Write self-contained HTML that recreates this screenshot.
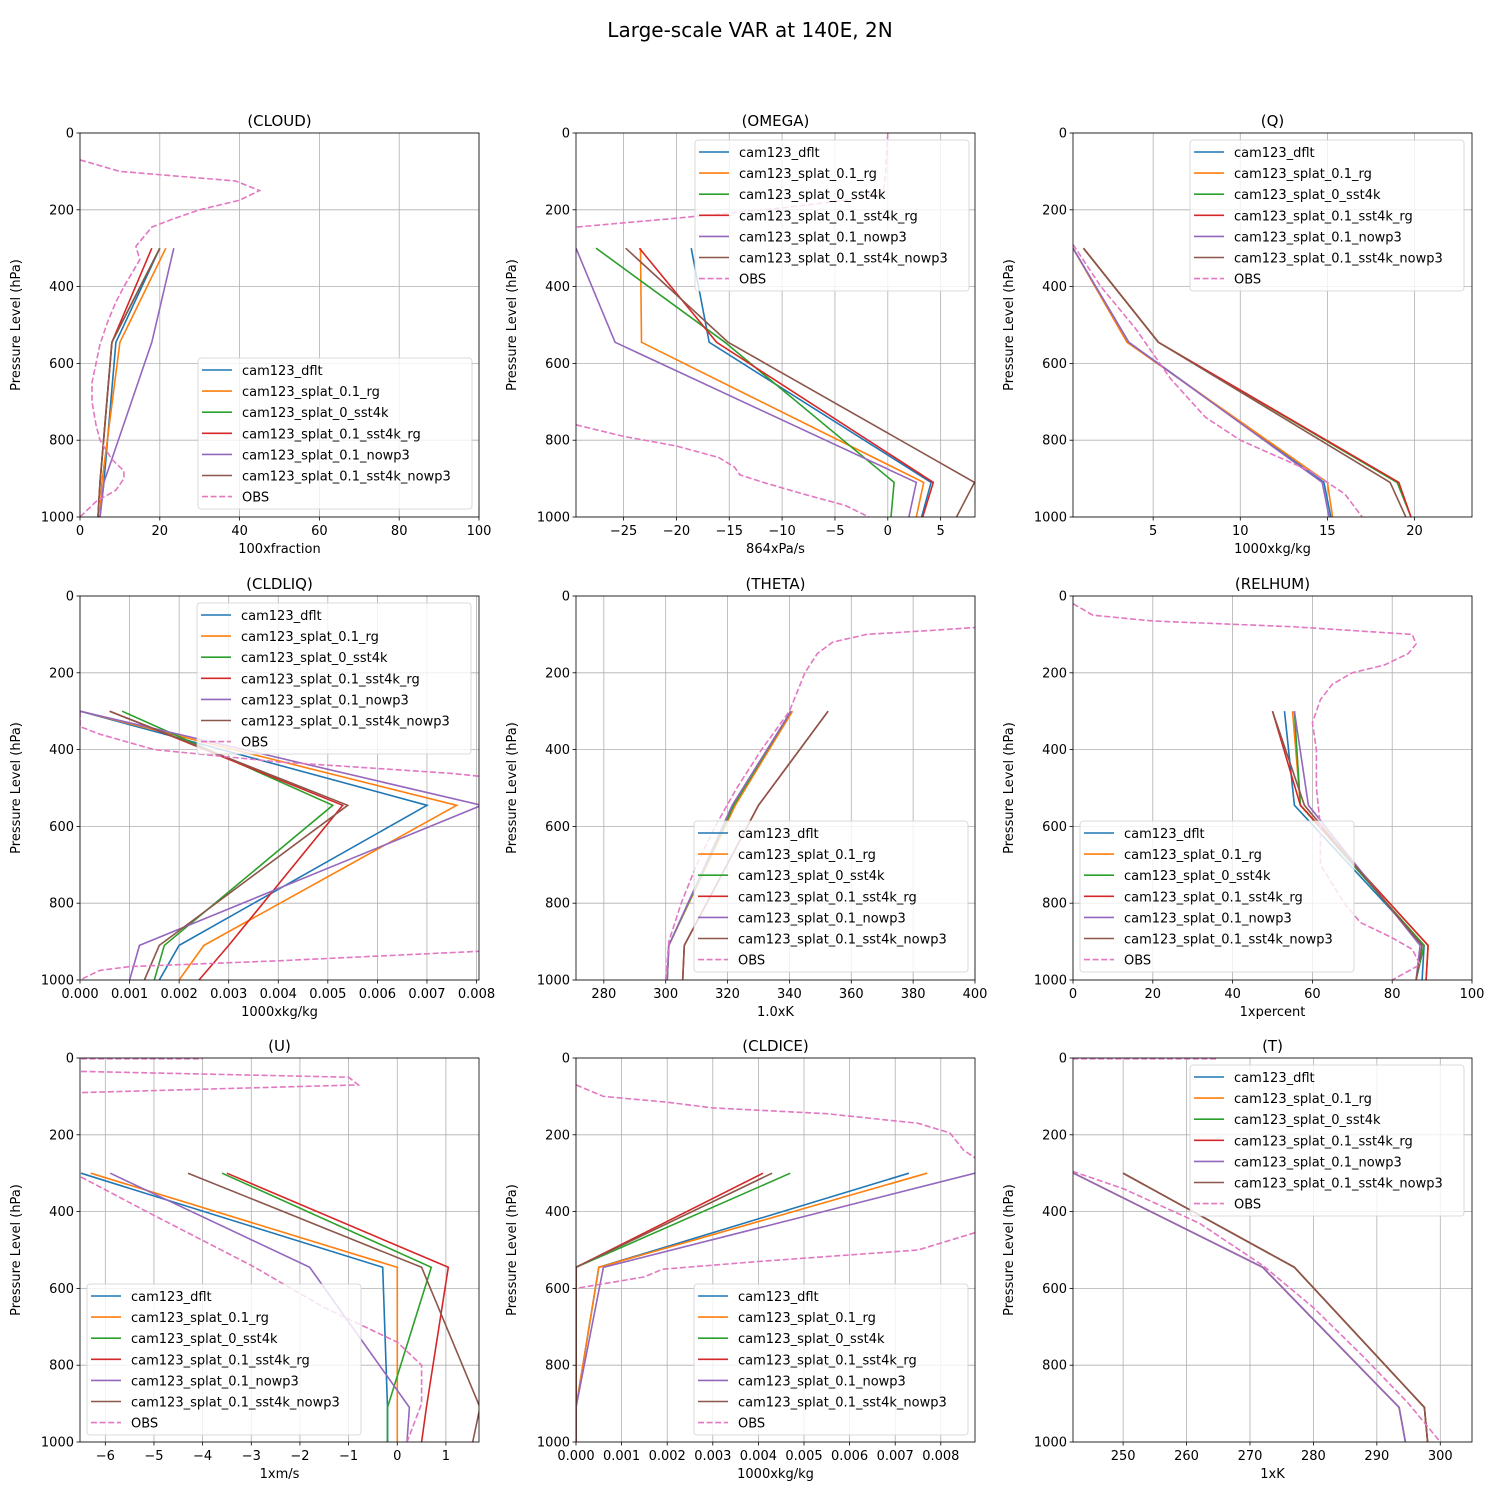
<!DOCTYPE html>
<html><head><meta charset="utf-8"><style>
body{margin:0;background:#fff;}
svg text{font-family:"DejaVu Sans","Liberation Sans",sans-serif;}
</style></head><body>
<svg id="fig" width="1500" height="1500" xmlns="http://www.w3.org/2000/svg">
<rect width="1500" height="1500" fill="#fff"/>
<text x="750" y="37" font-size="20" text-anchor="middle">Large-scale VAR at 140E, 2N</text>
</svg>
<script>
const levels = [300, 545, 910, 1000];
const seriesNames = ["cam123_dflt","cam123_splat_0.1_rg","cam123_splat_0_sst4k","cam123_splat_0.1_sst4k_rg","cam123_splat_0.1_nowp3","cam123_splat_0.1_sst4k_nowp3"];
const colors = ["#1f77b4","#ff7f0e","#2ca02c","#d62728","#9467bd","#8c564b"];
const obsColor = "#e377c2";

const cloudVals = [[20,9,6,5],[21.5,10,5.5,5],[20,8,5,4.5],[18,8,5,4.5],[23.5,18,6,5],[20,8,5,4.5]];
const cloudObs = [[0,70],[10,100],[39,125],[45,150],[40,175],[30,200],[23,225],[18,245],[14,295],[15,330],[13,365],[11,400],[9,440],[7,490],[5,550],[4,600],[3,650],[3,700],[4,760],[5,800],[8,850],[11,880],[11,900],[9,930],[4,960],[0,1000]];
const omegaVals = [[-18.6,-16.9,4.1,3.2],[-23.4,-23.3,3.4,2.7],[-27.6,-15.4,0.6,0.3],[-23.5,-16.2,4.3,3.3],[-29.5,-25.8,2.7,2.0],[-24.8,-15.1,8.2,6.5]];
const omegaObs = [[0,0],[-0.2,100],[-0.4,150],[-3,172],[-10,195],[-20,222],[-29.5,245],[null,null],[-29.5,760],[-25,790],[-20,815],[-16,845],[-14.5,870],[-14,890],[-12,908],[-8,940],[-4,970],[-1.8,1000]];
const qVals = [[0.4,3.6,14.8,15.2],[0.4,3.5,15.0,15.3],[1.0,5.3,19.0,19.8],[1.0,5.3,19.1,19.8],[0.4,3.6,14.7,15.1],[1.0,5.3,18.6,19.5]];
const qObs = [[0.4,290],[2,400],[4,510],[6,640],[8,740],[10,800],[12,840],[14,880],[16,940],[17,1000]];
const cldliqVals = [[0,0.0070,0.0020,0.0016],[0,0.0076,0.0025,0.0020],[0.00085,0.0051,0.0017,0.0015],[0.0006,0.0053,0.0030,0.0024],[0,0.0081,0.0012,0.0010],[0.0006,0.0054,0.0016,0.0013]];
const cldliqObs = [[0,300],[0,340],[0.0004,360],[0.0015,400],[0.004,432],[0.0075,462],[0.0081,470],[null,null],[0.0081,925],[0.004,950],[0.001,965],[0.0004,975],[0,1000]];
const thetaVals = [[340.5,322,301,300.5],[341,322.5,301,300.5],[340.5,322,301,300.5],[352.5,330,306,305.5],[340.5,321.5,301,300.5],[352.5,330,306,305.5]];
const thetaObs = [[300,1000],[301,900],[305,800],[310,700],[316,600],[323,500],[331,400],[340,300],[345,200],[349,150],[354,120],[365,100],[385,90],[400,82]];
const relhumVals = [[53,55.5,88,87.5],[55,57,89,88.5],[55.5,57,88,86],[50,57,89,88.5],[55.5,59,87,86],[50,58,87.5,86]];
const relhumObs = [[0,20],[5,50],[20,65],[55,80],[85,100],[86,125],[84,150],[78,180],[70,200],[65,230],[62,270],[60,330],[61,400],[61,500],[62,600],[62,700],[68,800],[72,850],[80,890],[85,920],[87,960],[80,1000]];
const uVals = [[-6.5,-0.3,-0.2,-0.2],[-6.3,0,0,0],[-3.6,0.7,-0.2,-0.2],[-3.5,1.05,0.6,0.5],[-5.9,-1.8,0.25,0.2],[-4.3,0.5,1.7,1.55]];
const uObs = [[-6.5,2],[-4,2],[null,null],[-6.5,35],[-1,50],[-0.8,70],[-6.5,90],[null,null],[-6.5,310],[-5,410],[-3,540],[-1.5,650],[0,740],[0.5,800],[0.5,900],[0.2,1000]];
const cldiceVals = [[0.0073,0.0005,0,0],[0.0077,0.0005,0,0],[0.0047,0,0,0],[0.0041,0,0,0],[0.00875,0.0006,0,0],[0.0043,0,0,0]];
const cldiceObs = [[0,70],[0.0006,100],[0.002,115],[0.003,130],[0.0055,145],[0.0075,170],[0.0082,195],[0.0085,240],[0.00875,260],[null,null],[0.00875,455],[0.0075,500],[0.004,530],[0.0019,550],[0.0015,570],[0,600]];
const tVals = [[242.2,272,293.5,294.5],[242.2,272,293.5,294.5],[250,277,297.5,298],[250,277,297.5,298],[242.2,272,293.5,294.5],[250,277,297.5,298]];
const tObs = [[242,2],[265,2],[null,null],[242,295],[250,340],[262,430],[272,540],[280,650],[288,780],[295,900],[298,960],[300,1000]];

const yTicks = [0,200,400,600,800,1000];
const cloudTicks=[0,20,40,60,80,100];
const omegaTicks=[-25,-20,-15,-10,-5,0,5];
const qTicks=[5,10,15,20];
const liqTicks=[0,0.001,0.002,0.003,0.004,0.005,0.006,0.007,0.008];
const thetaTicks=[280,300,320,340,360,380,400];
const rhTicks=[0,20,40,60,80,100];
const uTicks=[-6,-5,-4,-3,-2,-1,0,1];
const iceTicks=[0,0.001,0.002,0.003,0.004,0.005,0.006,0.007,0.008];
const tTicks=[250,260,270,280,290,300];

const cols=[80,576,1073], rows=[133,596,1058], W=399, H=384;
const panels=[
 {t:"(CLOUD)",xl:"100xfraction",lim:[0,100],ticks:cloudTicks,v:cloudVals,o:cloudObs,c:0,r:0,leg:[198,358],fmt:v=>v},
 {t:"(OMEGA)",xl:"864xPa/s",lim:[-29.5,8.25],ticks:omegaTicks,v:omegaVals,o:omegaObs,c:1,r:0,leg:[695,140],fmt:v=>v<0?"\u2212"+(-v):v},
 {t:"(Q)",xl:"1000xkg/kg",lim:[0.4,23.3],ticks:qTicks,v:qVals,o:qObs,c:2,r:0,leg:[1190,140],fmt:v=>v},
 {t:"(CLDLIQ)",xl:"1000xkg/kg",lim:[0,0.00805],ticks:liqTicks,v:cldliqVals,o:cldliqObs,c:0,r:1,leg:[197,603],fmt:v=>v.toFixed(3)},
 {t:"(THETA)",xl:"1.0xK",lim:[271,400],ticks:thetaTicks,v:thetaVals,o:thetaObs,c:1,r:1,leg:[694,821],fmt:v=>v},
 {t:"(RELHUM)",xl:"1xpercent",lim:[0,100],ticks:rhTicks,v:relhumVals,o:relhumObs,c:2,r:1,leg:[1080,821],fmt:v=>v},
 {t:"(U)",xl:"1xm/s",lim:[-6.52,1.68],ticks:uTicks,v:uVals,o:uObs,c:0,r:2,leg:[87,1284],fmt:v=>v<0?"\u2212"+(-v):v},
 {t:"(CLDICE)",xl:"1000xkg/kg",lim:[0,0.00875],ticks:iceTicks,v:cldiceVals,o:cldiceObs,c:1,r:2,leg:[694,1284],fmt:v=>v.toFixed(3)},
 {t:"(T)",xl:"1xK",lim:[242.1,305],ticks:tTicks,v:tVals,o:tObs,c:2,r:2,leg:[1190,1065],fmt:v=>v}
];
const NS="http://www.w3.org/2000/svg", fig=document.getElementById('fig');
function mk(tag,attrs,parent){const e=document.createElementNS(NS,tag);for(const k in attrs)e.setAttribute(k,attrs[k]);(parent||fig).appendChild(e);return e;}
panels.forEach((p,pi)=>{
 const x0=cols[p.c], y0=rows[p.r];
 const g=mk('g',{});
 
 
 const xs=v=>x0+(v-p.lim[0])/(p.lim[1]-p.lim[0])*W;
 const ys=v=>y0+v/1000*H;
 const cid='clip'+pi;
 const cp=mk('clipPath',{id:cid},g); mk('rect',{x:x0,y:y0,width:W,height:H},cp);
 // grid + ticks
 p.ticks.forEach(t=>{const X=xs(t);
  mk('line',{x1:X,x2:X,y1:y0,y2:y0+H,stroke:'#b0b0b0','stroke-width':0.8},g);
  mk('line',{x1:X,x2:X,y1:y0+H,y2:y0+H+3.5,stroke:'#000','stroke-width':0.8},g);
  const tx=mk('text',{x:X,y:y0+H+18,'font-size':13,'text-anchor':'middle'},g);tx.textContent=p.fmt(t);
  
  
 });
 yTicks.forEach(t=>{const Y=ys(t);
  mk('line',{x1:x0,x2:x0+W,y1:Y,y2:Y,stroke:'#b0b0b0','stroke-width':0.8},g);
  mk('line',{x1:x0-3.5,x2:x0,y1:Y,y2:Y,stroke:'#000','stroke-width':0.8},g);
  const tx=mk('text',{x:x0-6,y:Y+4.5,'font-size':13,'text-anchor':'end'},g);tx.textContent=t;
  
  
 });
 const sg=mk('g',{'clip-path':'url(#'+cid+')'},g);
 p.v.forEach((vals,i)=>{
  const pts=vals.map((v,k)=>xs(v).toFixed(1)+','+ys(levels[k]).toFixed(1)).join(' ');
  const pl=mk('polyline',{points:pts,fill:'none',stroke:colors[i],'stroke-width':1.6},sg);
  
  
 });
 let d='',pen=false;
 p.o.forEach(pt=>{if(pt[0]===null){pen=false;return;}d+=(pen?'L':'M')+xs(pt[0]).toFixed(1)+','+ys(pt[1]).toFixed(1);pen=true;});
 const ob=mk('path',{d:d,fill:'none',stroke:obsColor,'stroke-width':1.6,'stroke-dasharray':'6,2.6'},sg);
 
 
 mk('rect',{x:x0,y:y0,width:W,height:H,fill:'none',stroke:'#000','stroke-width':0.8},g);
 const tt=mk('text',{x:x0+W/2,y:y0-7,'font-size':15,'text-anchor':'middle'},g);tt.textContent=p.t;
 
 
 const xl=mk('text',{x:x0+W/2,y:y0+H+36,'font-size':13,'text-anchor':'middle'},g);xl.textContent=p.xl;
 
 
 const yx=x0-60, yy=y0+H/2;
 const yl=mk('text',{x:yx,y:yy,'font-size':13,'text-anchor':'middle',transform:'rotate(-90 '+yx+' '+yy+')'},g);yl.textContent='Pressure Level (hPa)';
 
 
 // legend
 const lx=p.leg[0], ly=p.leg[1];
 const lg=mk('g',{},g);
 
 
 mk('rect',{x:lx,y:ly,width:274,height:151,rx:3,fill:'#fff','fill-opacity':0.8,stroke:'#d0d0d0','stroke-width':0.8},lg);
 const names=seriesNames.concat(['OBS']);
 names.forEach((n,i)=>{const Y=ly+12+i*21.1;
  const e=mk('g',{},lg);
  
  
  const ln=mk('line',{x1:lx+4,x2:lx+34,y1:Y,y2:Y,stroke:i<6?colors[i]:obsColor,'stroke-width':1.6},e);
  if(i===6)ln.setAttribute('stroke-dasharray','6,2.6');
  const tx=mk('text',{x:lx+44,y:Y+5,'font-size':13},e);tx.textContent=n;
 });
});
</script>
</body></html>
